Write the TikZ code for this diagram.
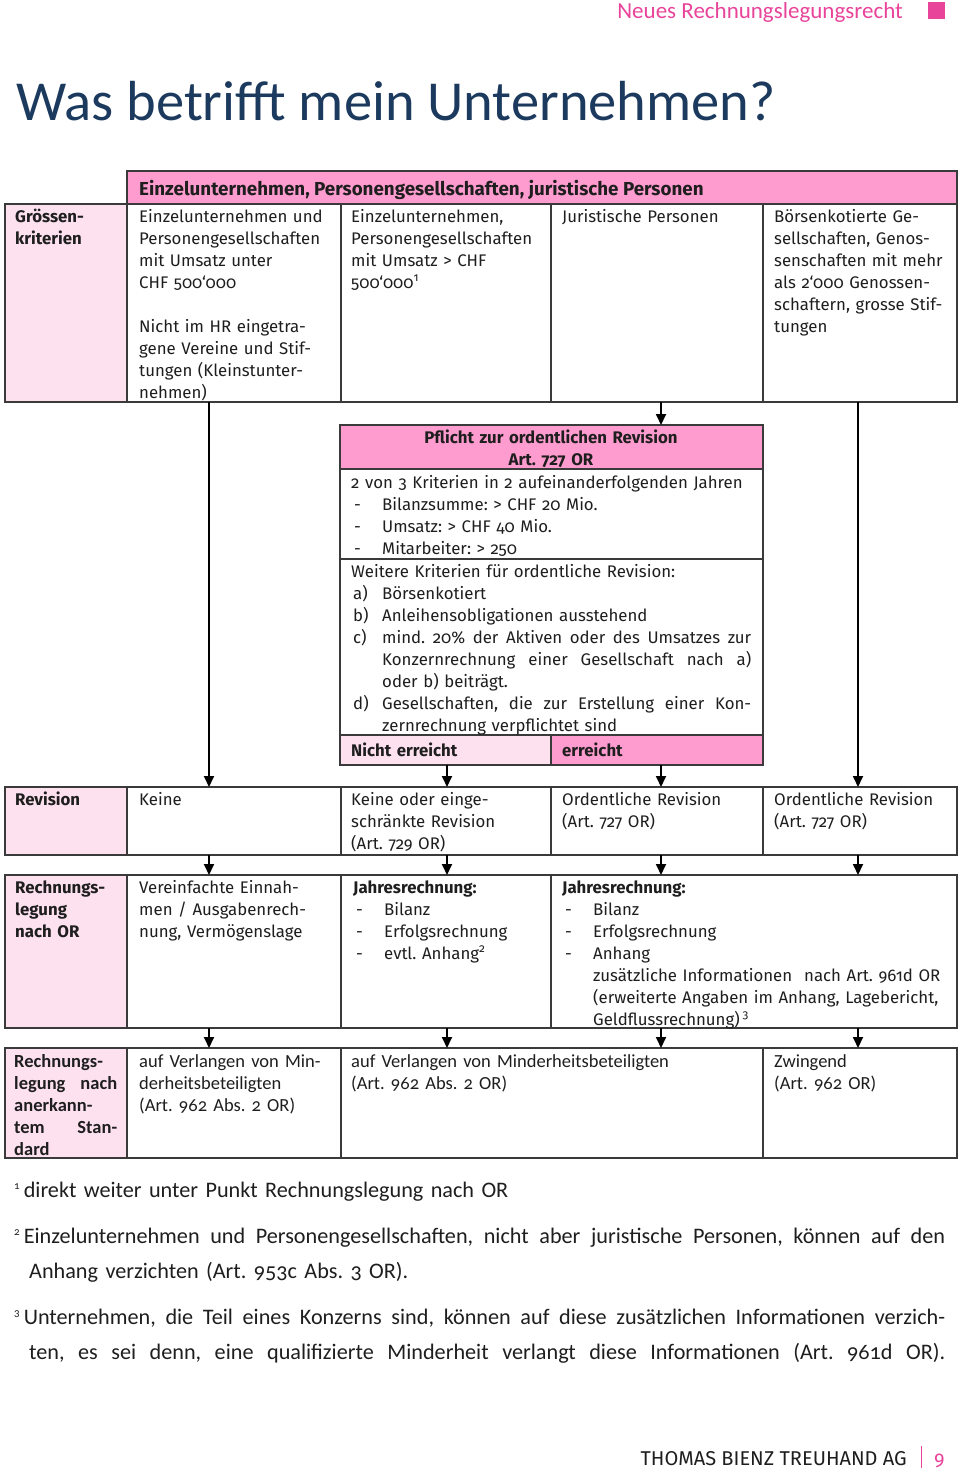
\documentclass[tikz,border=0pt]{standalone}
\usepackage{fontspec}
\setmainfont{Fira Sans}[Numbers=OldStyle]
\newfontfamily\calfont{Carlito}[Numbers=OldStyle]
\usetikzlibrary{arrows.meta}
\frenchspacing
\definecolor{hdrpink}{HTML}{FF9CCF}
\definecolor{lightpink}{HTML}{FDE1EF}
\definecolor{brandpink}{HTML}{E8449A}
\definecolor{navy}{HTML}{1C3A5E}
\definecolor{bordergray}{HTML}{3A3A3A}
\definecolor{textdark}{HTML}{1E1E1E}
\newcommand\tabfont{\fontsize{16.8}{22}\selectfont}
\newcommand\rowfourfont{\calfont\fontsize{18.5}{22}\selectfont}
\newcommand\fnfont{\calfont\fontsize{22.2}{35}\selectfont}
\newcommand\dashitem[1]{\makebox[31pt][l]{\hspace{3pt}-}#1}
\newcommand\listitem[2]{\makebox[31pt][l]{\hspace{2pt}#1}#2}
\newcommand\fnmark[1]{\raisebox{8pt}{\fontsize{11}{11}\selectfont #1}\hspace{4pt}}
\newcommand\jline[2]{\makebox[#1][s]{\spaceskip=0.25em plus 1fil\relax #2}}
\tikzset{
  cell/.style={draw=bordergray, line width=1.3pt},
  celltext/.style={anchor=base west, inner sep=0pt, align=left, text width=#1, font=\tabfont, text=textdark},
  labeltext/.style={anchor=base west, inner sep=0pt, align=left, text width=108pt, font=\tabfont\bfseries, text=textdark},
  fntext/.style={anchor=base west, inner sep=0pt, align=left, text width=940pt, font=\fnfont, text=textdark},
  flow/.style={-{Triangle[length=11pt,width=10pt]}, line width=1.8pt, draw=black}
}
\begin{document}
\begin{tikzpicture}[x=1pt,y=-1pt]
\useasboundingbox (0,0) rectangle (960,1469);

% page header
\node[anchor=base east, inner sep=0pt, font=\calfont\fontsize{23}{23}\selectfont, text=brandpink] (topic) at (903,19) {Neues Rechnungslegungsrecht};
\fill[brandpink] (928,2) rectangle (945,19);

% title
\node[anchor=base west, inner sep=0pt, font=\calfont\fontsize{56.5}{60}\selectfont, text=navy] (title) at (16,121) {Was betrifft mein Unternehmen?};

% ---------- top table ----------
\draw[cell, fill=hdrpink] (127,171) rectangle (957,204);
\node[anchor=base west, inner sep=0pt, font=\fontsize{18.8}{22}\selectfont\bfseries, text=textdark] (hdr) at (139,195) {Einzelunternehmen, Personengesellschaften, juristische Personen};

\draw[cell, fill=lightpink] (5,204) rectangle (127,402);
\draw[cell] (127,204) rectangle (341,402);
\draw[cell] (341,204) rectangle (551,402);
\draw[cell] (551,204) rectangle (763,402);
\draw[cell] (763,204) rectangle (957,402);

\node[labeltext] (lab1) at (15,222) {Grössen-\\kriterien};
\node[celltext=200pt] (c11) at (139,222) {Einzelunternehmen und\\Personengesellschaften\\mit Umsatz unter\\CHF 500‘000\\[22pt]Nicht im HR eingetra-\\gene Vereine und Stif-\\tungen (Kleinstunter-\\nehmen)};
\node[celltext=200pt] (c12) at (351,222) {Einzelunternehmen,\\Personengesellschaften\\mit Umsatz > CHF\\500‘000\textsuperscript{1}};
\node[celltext=200pt] (c13) at (562,222) {Juristische Personen};
\node[celltext=185pt] (c14) at (774,222) {Börsenkotierte Ge-\\sellschaften, Genos-\\senschaften mit mehr\\als 2‘000 Genossen-\\schaftern, grosse Stif-\\tungen};

% ---------- Pflicht box ----------
\draw[cell, fill=hdrpink] (340,425) rectangle (763,469);
\draw[cell] (340,469) rectangle (763,559);
\draw[cell] (340,559) rectangle (763,735);
\draw[cell, fill=lightpink] (340,735) rectangle (551,765);
\draw[cell, fill=hdrpink] (551,735) rectangle (763,765);

\node[anchor=base, inner sep=0pt, align=center, text width=410pt, font=\tabfont\bfseries, text=textdark] (pfhead) at (551,443) {Pflicht zur ordentlichen Revision\\Art. 727 OR};
\node[celltext=410pt] (pfcrit) at (351,488) {2 von 3 Kriterien in 2 aufeinanderfolgenden Jahren\\\dashitem{Bilanzsumme: > CHF 20 Mio.}\\\dashitem{Umsatz: > CHF 40 Mio.}\\\dashitem{Mitarbeiter: > 250}};
\node[celltext=410pt] (pfmore) at (351,577) {Weitere Kriterien für ordentliche Revision:\\
\listitem{a)}{Börsenkotiert}\\
\listitem{b)}{Anleihensobligationen ausstehend}\\
\listitem{c)}{\jline{369pt}{mind. 20\% der Aktiven oder des Umsatzes zur}}\\
\makebox[31pt]{}\jline{369pt}{Konzernrechnung einer Gesellschaft nach a)}\\
\makebox[31pt]{}oder b) beiträgt.\\
\listitem{d)}{\jline{369pt}{Gesellschaften, die zur Erstellung einer Kon-}}\\
\makebox[31pt]{}zernrechnung verpflichtet sind};
\node[labeltext, text width=195pt] (pfno) at (351,756) {Nicht erreicht};
\node[labeltext, text width=195pt] (pfyes) at (562,756) {erreicht};

% ---------- Revision row ----------
\draw[cell, fill=lightpink] (5,787) rectangle (127,855);
\draw[cell] (127,787) rectangle (341,855);
\draw[cell] (341,787) rectangle (551,855);
\draw[cell] (551,787) rectangle (763,855);
\draw[cell] (763,787) rectangle (957,855);
\node[labeltext] (lab2) at (15,805) {Revision};
\node[celltext=200pt] (c21) at (139,805) {Keine};
\node[celltext=200pt] (c22) at (351,805) {Keine oder einge-\\schränkte Revision\\(Art. 729 OR)};
\node[celltext=200pt] (c23) at (562,805) {Ordentliche Revision\\(Art. 727 OR)};
\node[celltext=185pt] (c24) at (774,805) {Ordentliche Revision\\(Art. 727 OR)};

% ---------- Rechnungslegung nach OR ----------
\draw[cell, fill=lightpink] (5,875) rectangle (127,1028);
\draw[cell] (127,875) rectangle (341,1028);
\draw[cell] (341,875) rectangle (551,1028);
\draw[cell] (551,875) rectangle (957,1028);
\node[labeltext] (lab3) at (15,893) {Rechnungs-\\legung\\nach OR};
\node[celltext=200pt] (c31) at (139,893) {Vereinfachte Einnah-\\men / Ausgabenrech-\\nung, Vermögenslage};
\node[celltext=200pt] (c32) at (353,893) {\textbf{Jahresrechnung:}\\\dashitem{Bilanz}\\\dashitem{Erfolgsrechnung}\\\dashitem{evtl. Anhang\textsuperscript{2}}};
\node[celltext=395pt] (c33) at (562,893) {\textbf{Jahresrechnung:}\\\dashitem{Bilanz}\\\dashitem{Erfolgsrechnung}\\\dashitem{Anhang}\\
\makebox[31pt]{}zusätzliche Informationen\hspace{12pt}nach Art. 961d OR\\
\makebox[31pt]{}(erweiterte Angaben im Anhang, Lagebericht,\\
\makebox[31pt]{}Geldflussrechnung)\,\textsuperscript{3}};

% ---------- Rechnungslegung nach anerkanntem Standard ----------
\draw[cell, fill=lightpink] (5,1048) rectangle (127,1158);
\draw[cell] (127,1048) rectangle (341,1158);
\draw[cell] (341,1048) rectangle (763,1158);
\draw[cell] (763,1048) rectangle (957,1158);
\node[anchor=base west, inner sep=0pt, align=left, text width=104pt, font=\rowfourfont\bfseries, text=textdark] (lab4) at (14,1067) {Rechnungs-\\\jline{103pt}{legung nach}\\anerkann-\\\jline{103pt}{tem Stan-}\\dard};
\node[celltext=200pt, font=\rowfourfont] (c41) at (139,1067) {auf Verlangen von Min-\\derheitsbeteiligten\\(Art. 962 Abs. 2 OR)};
\node[celltext=400pt, font=\rowfourfont] (c42) at (351,1067) {auf Verlangen von Minderheitsbeteiligten\\(Art. 962 Abs. 2 OR)};
\node[celltext=185pt, font=\rowfourfont] (c43) at (774,1067) {Zwingend\\(Art. 962 OR)};

% ---------- connectors ----------
\coordinate (a1s) at (209,402);  \coordinate (a1e) at (209,787);
\coordinate (a3s) at (661,402);  \coordinate (a3e) at (661,425);
\coordinate (a4s) at (858,402);  \coordinate (a4e) at (858,787);
\coordinate (b2s) at (447,765);  \coordinate (b2e) at (447,787);
\coordinate (b3s) at (661,765);  \coordinate (b3e) at (661,787);
\foreach \x/\n in {209/1,447/2,661/3,858/4}{
  \coordinate (r\n s) at (\x,855); \coordinate (r\n e) at (\x,875);
  \coordinate (q\n s) at (\x,1028); \coordinate (q\n e) at (\x,1048);
}
\draw[flow] (a1s) -- (a1e);
\draw[flow] (a3s) -- (a3e);
\draw[flow] (a4s) -- (a4e);
\draw[flow] (b2s) -- (b2e);
\draw[flow] (b3s) -- (b3e);
\foreach \n in {1,2,3,4}{
  \draw[flow] (r\n s) -- (r\n e);
  \draw[flow] (q\n s) -- (q\n e);
}

% ---------- footnotes ----------
\node[fntext] (fn1) at (14,1197) {\fnmark{1}direkt weiter unter Punkt Rechnungslegung nach OR};
\node[fntext] (fn2) at (14,1243) {\jline{931pt}{\fnmark{2}Einzelunternehmen und Personengesellschaften, nicht aber juristische Personen, können auf den}\\\makebox[15pt]{}Anhang verzichten (Art. 953c Abs. 3 OR).};
\node[fntext] (fn3) at (14,1324) {\jline{931pt}{\fnmark{3}Unternehmen, die Teil eines Konzerns sind, können auf diese zusätzlichen Informationen verzich-}\\\makebox[15pt]{}\jline{916pt}{ten, es sei denn, eine qualifizierte Minderheit verlangt diese Informationen (Art. 961d OR).}};

% ---------- footer ----------
\node[anchor=base east, inner sep=0pt, font=\fontsize{20}{20}\selectfont, text=textdark] (footer) at (907,1465) {THOMAS BIENZ TREUHAND AG};
\draw[brandpink, line width=1pt] (921,1446) -- (921,1468);
\node[anchor=base west, inner sep=0pt, font=\fontsize{20}{20}\selectfont, text=brandpink] (pagenum) at (934,1465) {9};
\end{tikzpicture}
\end{document}
